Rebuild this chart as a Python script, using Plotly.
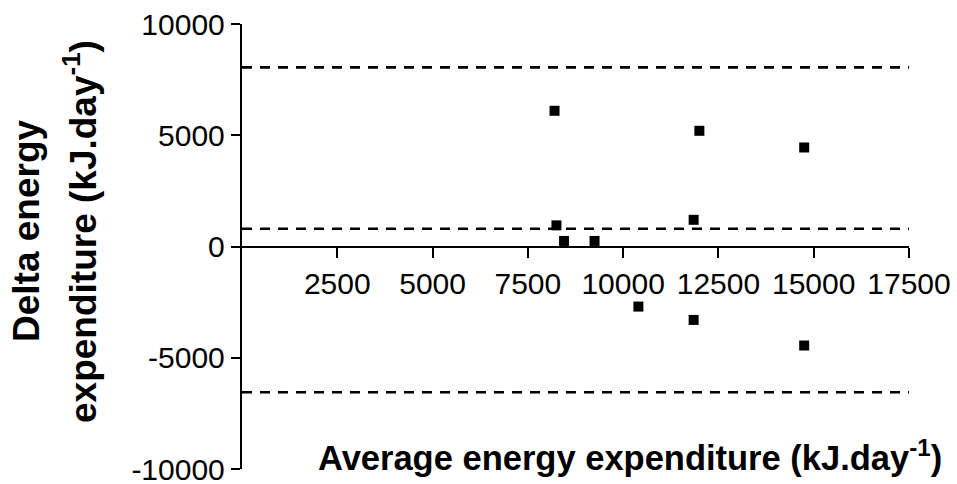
import plotly.graph_objects as go

# Data (Bland-Altman plot)
avg_energy = [8200, 8250, 8450, 9250, 10400, 11850, 11850, 12000, 14750, 14750]
delta_energy = [6100, 950, 250, 250, -2700, -3300, 1200, 5200, 4450, -4450]

limit_values = [8050, 800, -6550]   # upper LoA, mean bias, lower LoA
x_ticks = [2500, 5000, 7500, 10000, 12500, 15000, 17500]
y_ticks = [-10000, -5000, 0, 5000, 10000]
x_range = [0, 17500]
y_range = [-10000, 10000]

FONT = "Liberation Sans, Arial, Helvetica, sans-serif"

fig = go.Figure()

for v in limit_values:
    fig.add_trace(go.Scatter(
        x=x_range, y=[v, v], mode="lines",
        line=dict(color="black", width=2.6, dash="10px,8px"),
        hoverinfo="skip", showlegend=False, cliponaxis=False,
    ))

fig.add_trace(go.Scatter(
    x=avg_energy, y=delta_energy, mode="markers",
    marker=dict(symbol="square", size=10, color="black", line=dict(width=0)),
    showlegend=False, cliponaxis=False,
))

fig.update_layout(
    width=957, height=484,
    margin=dict(l=242, r=48, t=24, b=15, autoexpand=False),
    paper_bgcolor="white", plot_bgcolor="white",
    font=dict(family=FONT, color="black", size=30),
    xaxis=dict(
        range=x_range, tickvals=x_ticks, ticktext=[str(t) for t in x_ticks],
        showgrid=False, zeroline=False, showline=True, linecolor="black", linewidth=2.4,
        ticks="outside", ticklen=10, tickwidth=2, tickcolor="black",
        anchor="free", position=0.5, automargin=False, ticklabeloverflow="allow",
        tickfont=dict(size=30, family=FONT),
    ),
    yaxis=dict(
        range=y_range, tickvals=y_ticks, ticktext=[str(t) for t in y_ticks],
        showgrid=False, zeroline=False, showline=True, linecolor="black", linewidth=2.4,
        ticks="outside", ticklen=9, tickwidth=2, tickcolor="black", automargin=False,
        ticklabeloverflow="allow",
        tickfont=dict(size=30, family=FONT),
    ),
    annotations=[
        dict(text="<b>Average energy expenditure (kJ.day<sup>-1</sup>)</b>",
             xref="paper", yref="paper", x=(630 - 242) / 667, y=0.031,
             xanchor="center", yanchor="middle", showarrow=False,
             font=dict(size=34.5, family=FONT)),
        dict(text="<b>Delta energy</b>",
             xref="paper", yref="paper", x=(26 - 242) / 667, y=(469 - 231) / 445,
             xanchor="center", yanchor="middle", showarrow=False, textangle=-90,
             font=dict(size=37, family=FONT)),
        dict(text="<b>expenditure (kJ.day<sup>-1</sup>)</b>",
             xref="paper", yref="paper", x=(81 - 242) / 667, y=(469 - 232) / 445,
             xanchor="center", yanchor="middle", showarrow=False, textangle=-90,
             font=dict(size=37, family=FONT)),
    ],
)

fig.write_html("out.html", config={"displayModeBar": False},
               post_script="document.body.style.margin='0';")
